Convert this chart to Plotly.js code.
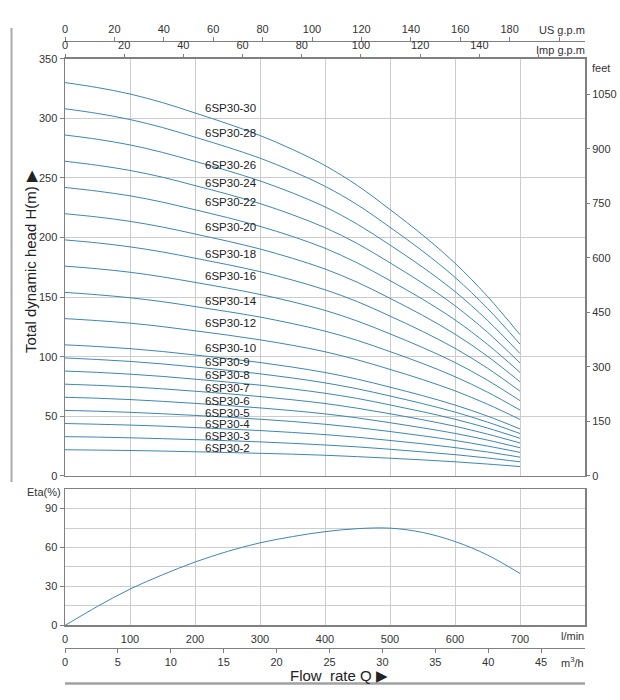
<!DOCTYPE html>
<html>
<head>
<meta charset="utf-8">
<script src="https://cdn.plot.ly/plotly-3.0.1.min.js"></script>
<style>html,body{margin:0;padding:0;background:#fff;}#chart{width:620px;height:700px;}</style>
</head>
<body>
<div id="chart"></div>
<script>
// ---- data ----
const flowQ = [0, 50, 100, 150, 200, 250, 300, 350, 400, 450, 500, 550, 600, 650, 700]; // l/min

const models = ["6SP30-2","6SP30-3","6SP30-4","6SP30-5","6SP30-6","6SP30-7","6SP30-8","6SP30-9","6SP30-10",
                "6SP30-12","6SP30-14","6SP30-16","6SP30-18","6SP30-20","6SP30-22","6SP30-24","6SP30-26","6SP30-28","6SP30-30"];

const head_2  = [22.0, 21.7, 21.4, 20.9, 20.3, 19.7, 19.0, 18.3, 17.4, 16.2, 14.9, 13.5, 11.9, 10.0, 7.9];
const head_3  = [33.0, 32.6, 32.0, 31.3, 30.5, 29.6, 28.6, 27.4, 26.0, 24.4, 22.4, 20.2, 17.9, 15.1, 11.9];
const head_4  = [44.0, 43.4, 42.7, 41.8, 40.6, 39.4, 38.1, 36.5, 34.7, 32.5, 29.8, 27.0, 23.8, 20.1, 15.8];
const head_5  = [55.0, 54.3, 53.4, 52.2, 50.8, 49.3, 47.6, 45.7, 43.4, 40.6, 37.3, 33.7, 29.8, 25.1, 19.8];
const head_6  = [66.0, 65.2, 64.1, 62.6, 60.9, 59.1, 57.1, 54.8, 52.1, 48.7, 44.7, 40.4, 35.7, 30.1, 23.7];
const head_7  = [77.0, 76.0, 74.8, 73.1, 71.1, 69.0, 66.6, 63.9, 60.8, 56.8, 52.2, 47.2, 41.7, 35.1, 27.7];
const head_8  = [88.0, 86.9, 85.4, 83.5, 81.2, 78.8, 76.2, 73.0, 69.4, 65.0, 59.6, 53.9, 47.6, 40.2, 31.6];
const head_9  = [99.0, 97.7, 96.1, 94.0, 91.4, 88.7, 85.7, 82.2, 78.1, 73.1, 67.1, 60.7, 53.6, 45.2, 35.6];
const head_10 = [110.0, 108.6, 106.8, 104.4, 101.5, 98.5, 95.2, 91.3, 86.8, 81.2, 74.5, 67.4, 59.5, 50.2, 39.5];
const head_12 = [132.0, 130.3, 128.2, 125.3, 121.8, 118.2, 114.2, 109.6, 104.2, 97.4, 89.4, 80.9, 71.4, 60.2, 47.4];
const head_14 = [154.0, 152.0, 149.5, 146.2, 142.1, 137.9, 133.3, 127.8, 121.5, 113.7, 104.3, 94.4, 83.3, 70.3, 55.3];
const head_16 = [176.0, 173.8, 170.9, 167.0, 162.4, 157.6, 152.3, 146.1, 138.9, 129.9, 119.2, 107.8, 95.2, 80.3, 63.2];
const head_18 = [198.0, 195.5, 192.2, 187.9, 182.7, 177.3, 171.4, 164.3, 156.2, 146.2, 134.1, 121.3, 107.1, 90.4, 71.1];
const head_20 = [220.0, 217.2, 213.6, 208.8, 203.0, 197.0, 190.4, 182.6, 173.6, 162.4, 149.0, 134.8, 119.0, 100.4, 79.0];
const head_22 = [242.0, 238.9, 235.0, 229.7, 223.3, 216.7, 209.4, 200.9, 191.0, 178.6, 163.9, 148.3, 130.9, 110.4, 86.9];
const head_24 = [264.0, 260.6, 256.3, 250.6, 243.6, 236.4, 228.5, 219.1, 208.3, 194.9, 178.8, 161.8, 142.8, 120.5, 94.8];
const head_26 = [286.0, 282.4, 277.7, 271.4, 263.9, 256.1, 247.5, 237.4, 225.7, 211.1, 193.7, 175.2, 154.7, 130.5, 102.7];
const head_28 = [308.0, 304.1, 299.0, 292.3, 284.2, 275.8, 266.6, 255.6, 243.0, 227.4, 208.6, 188.7, 166.6, 140.6, 110.6];
const head_30 = [330.0, 325.8, 320.4, 313.2, 304.5, 295.5, 285.6, 273.9, 260.4, 243.6, 223.5, 202.2, 178.5, 150.6, 118.5];

const headCurves = [head_2, head_3, head_4, head_5, head_6, head_7, head_8, head_9, head_10,
                    head_12, head_14, head_16, head_18, head_20, head_22, head_24, head_26, head_28, head_30];

const etaQ   = [0, 50, 100, 150, 200, 250, 300, 350, 400, 450, 500, 550, 600, 650, 700];
const etaVal = [0, 14.7, 28.0, 39.0, 48.8, 57.0, 63.6, 68.4, 72.2, 74.5, 74.9, 71.6, 64.6, 54.2, 40.0];

const headTicks  = [0, 50, 100, 150, 200, 250, 300, 350];
const feetTicks  = [0, 150, 300, 450, 600, 750, 900, 1050];
const lminTicks  = [0, 100, 200, 300, 400, 500, 600, 700];
const m3hTicks   = [0, 5, 10, 15, 20, 25, 30, 35, 40, 45];
const usTicks    = [0, 20, 40, 60, 80, 100, 120, 140, 160, 180, 200];
const usLabels   = ["0","20","40","60","80","100","120","140","160","180"," "];
const impTicks   = [0, 20, 40, 60, 80, 100, 120, 140, 160];
const impLabels  = ["0","20","40","60","80","100","120","140"," "];
const etaTicks   = [0, 30, 60, 90];

// label placement (head, m) for curve name annotations
const labelH = [23.6, 33.7, 43.8, 53.1, 63.2, 73.4, 84.3, 95.3, 107.1,
                128.2, 146.7, 167.8, 186.3, 209.1, 230.2, 245.4, 260.5, 287.5, 308.6];

// ---- constants ----
const FONT = "Liberation Sans, Arial, sans-serif";
const LINE = "#3b87b5";
const GRID = "#cccccc";
const FRAME = "#808080";
const QMAX = 800;

const traces = [];
headCurves.forEach((h, i) => {
  traces.push({x: flowQ, y: h, type: "scatter", mode: "lines", name: models[i],
    line: {color: LINE, width: 1, shape: "spline", smoothing: 1},
    xaxis: "x", yaxis: "y", hoverinfo: "skip", showlegend: false});
});
traces.push({x: etaQ, y: etaVal, type: "scatter", mode: "lines", name: "Eta",
  line: {color: LINE, width: 1, shape: "spline", smoothing: 1},
  xaxis: "x2", yaxis: "y2", hoverinfo: "skip", showlegend: false});
// helper empty traces so the extra axes are drawn
[["x3","y"],["x5","y"],["x","y3"],["x4","y2"]].forEach(p => {
  traces.push({x: [], y: [], type: "scatter", mode: "lines", xaxis: p[0], yaxis: p[1], showlegend: false, hoverinfo: "skip"});
});

const tickFont = {family: FONT, size: 11, color: "#333"};
const mainDom = [0.2834, 0.9708];
const lowDom = [0.0371, 0.2619];

const annotations = models.map((m, i) => ({
  x: 213, y: labelH[i], xref: "x", yref: "y", text: m, showarrow: false,
  xanchor: "left", yanchor: "middle", font: {family: FONT, size: 11.5, color: "#222"}
}));
annotations.push(
  {x: 1.004, y: 1.018, xref: "paper", yref: "paper", text: "US g.p.m", showarrow: false, xanchor: "right", yanchor: "middle", font: tickFont},
  {x: 1.004, y: 0.985, xref: "paper", yref: "paper", text: "Imp g.p.m", showarrow: false, xanchor: "right", yanchor: "middle", font: tickFont},
  {x: 1.0096, y: 0.9547, xref: "paper", yref: "paper", text: "feet", showarrow: false, xanchor: "left", yanchor: "middle", font: tickFont},
  {x: 1.002, y: 0.0198, xref: "paper", yref: "paper", text: "l/min", showarrow: false, xanchor: "right", yanchor: "middle", font: tickFont},
  {x: 1.002, y: -0.023, xref: "paper", yref: "paper", text: "m<sup>3</sup>/h", showarrow: false, xanchor: "right", yanchor: "middle", font: tickFont},
  {x: 0.527, y: -0.0455, xref: "paper", yref: "paper", text: "Flow\u00a0 rate Q \u25B6", showarrow: false, xanchor: "center", yanchor: "middle", font: {family: FONT, size: 15, color: "#222"}},
  {x: -0.004, y: 0.257, xref: "paper", yref: "paper", text: "Eta(%)", showarrow: false, xanchor: "right", yanchor: "middle", font: tickFont},
  {x: -0.0654, y: 0.6376, xref: "paper", yref: "paper", text: "Total dynamic head H(m) \u25B6", textangle: -90, showarrow: false, xanchor: "center", yanchor: "middle", font: {family: FONT, size: 15, color: "#222"}}
);

const layout = {
  width: 620, height: 700,
  margin: {l: 65, r: 35, t: 41, b: 52, pad: 0},
  paper_bgcolor: "#fff", plot_bgcolor: "#fff",
  showlegend: false,
  font: {family: FONT, size: 11, color: "#333"},
  xaxis: {domain: [0, 1], anchor: "y", range: [0, QMAX], tickvals: [0,100,200,300,400,500,600,700,800],
    showticklabels: false, ticks: "", showgrid: true, gridcolor: GRID, gridwidth: 1,
    showline: true, mirror: true, linecolor: FRAME, linewidth: 1.5, zeroline: false, fixedrange: true},
  yaxis: {domain: mainDom, anchor: "x", range: [0, 350], tickvals: headTicks, ticks: "outside", ticklen: 4,
    tickcolor: FRAME, tickfont: tickFont, showgrid: true, gridcolor: GRID, gridwidth: 1,
    showline: true, mirror: true, linecolor: FRAME, linewidth: 1.5, zeroline: false},
  yaxis3: {overlaying: "y", anchor: "x", side: "right", range: [0, 350 * 3.28084], tickvals: feetTicks,
    ticks: "outside", ticklen: 4, tickcolor: FRAME, tickfont: tickFont, showgrid: false, showline: false, zeroline: false},
  xaxis3: {overlaying: "x", anchor: "y", side: "top", range: [0, 175.7], tickvals: impTicks, ticktext: impLabels,
    ticks: "outside", ticklen: 4, tickcolor: FRAME, tickfont: tickFont, showgrid: false, showline: false, zeroline: false},
  xaxis5: {overlaying: "x", anchor: "free", position: 1, side: "top", range: [0, 210.5], tickvals: usTicks, ticktext: usLabels,
    ticks: "outside", ticklen: 4, tickcolor: FRAME, tickfont: tickFont, showgrid: false, showline: true, linecolor: FRAME, linewidth: 1.2, zeroline: false},
  xaxis2: {domain: [0, 1], anchor: "y2", range: [0, QMAX], tickvals: lminTicks, ticks: "outside", ticklen: 3,
    tickcolor: "rgba(0,0,0,0)", tickfont: tickFont, showgrid: true, gridcolor: GRID, gridwidth: 1,
    showline: true, mirror: true, linecolor: FRAME, linewidth: 1.5, zeroline: false},
  yaxis2: {domain: lowDom, anchor: "x2", range: [0, 105], tickvals: etaTicks, ticks: "outside", ticklen: 4,
    tickcolor: FRAME, tickfont: tickFont, showgrid: true, gridcolor: GRID, gridwidth: 1,
    minor: {tick0: 0, dtick: 15, showgrid: true, gridcolor: GRID, gridwidth: 1, ticks: ""},
    showline: true, mirror: true, linecolor: FRAME, linewidth: 1.5, zeroline: false},
  xaxis4: {overlaying: "x2", anchor: "free", position: 0, side: "bottom", range: [0, 49.15], tickvals: m3hTicks,
    ticks: "outside", ticklen: 4, tickcolor: FRAME, tickfont: tickFont, showgrid: false, showline: true, linecolor: FRAME, linewidth: 1.2, zeroline: false},
  shapes: [
    {type: "line", xref: "paper", yref: "paper", x0: -0.1029, x1: -0.1029, y0: 1.0214, y1: 0.2735, line: {color: "#aaaaaa", width: 2}},
    {type: "line", xref: "paper", yref: "paper", x0: 0, x1: 1, y0: -0.0585, y1: -0.0585, line: {color: "#a0a0a0", width: 2.5}}
  ],
  annotations: annotations
};

Plotly.newPlot("chart", traces, layout, {staticPlot: true, displayModeBar: false});
</script>
</body>
</html>
